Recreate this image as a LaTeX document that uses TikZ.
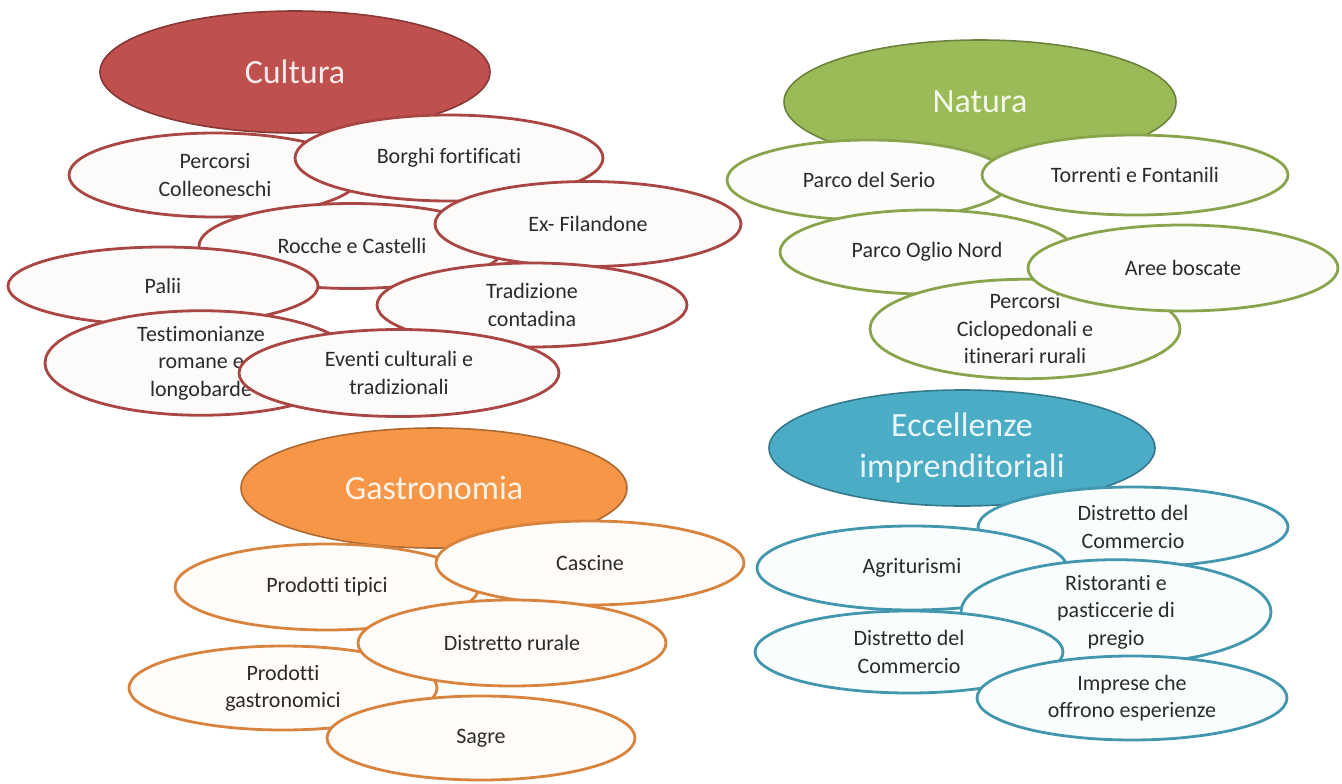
\documentclass[tikz,border=0pt]{standalone}
\usepackage{fontspec}
\setmainfont[Ligatures={NoCommon}]{Carlito}
\usepackage{tikz}
\usetikzlibrary{shapes.geometric}
\definecolor{cultura}{HTML}{C0504D}
\definecolor{natura}{HTML}{9BBB59}
\definecolor{gastro}{HTML}{F79646}
\definecolor{impresa}{HTML}{4BACC6}
\definecolor{scritta}{HTML}{2B2B2B}
\tikzset{titolo/.style={ellipse,draw=#1!70!black,fill=#1,line width=1.6pt,inner sep=0pt,
    minimum width=388pt,minimum height=120pt,text=#1!12!white,align=center,
    font=\fontsize{34}{41}\selectfont},
  voce/.style={ellipse,draw=#1!88!black,fill=#1!3!white,line width=2.8pt,inner sep=0pt,
    minimum width=310pt,minimum height=84pt,text=scritta,align=center,
    font=\fontsize{22}{27.5}\selectfont}}

\begin{document}
\begin{tikzpicture}[x=1pt,y=1pt,yscale=-1,xscale=1]
\useasboundingbox (0,0) rectangle (1342,784);

%Cultura
\node [titolo=cultura,minimum width=390,minimum height=122] (cult) at (295,72) {Cultura};
\node [voce=cultura,minimum width=292] (colleo) at (215,175) {Percorsi\\Colleoneschi};
\node [voce=cultura,minimum width=308,minimum height=86] (borghi) at (449,158) {Borghi fortificati};
\node [voce=cultura,minimum width=306,minimum height=85] (rocche) at (352,246) {Rocche e Castelli};
\node [voce=cultura,minimum width=306,minimum height=85] (filand) at (588,224) {Ex- Filandone};
\node [voce=cultura,minimum height=78] (palii) at (163,286) {Palii};
\node [voce=cultura] (tradiz) at (532,305) {Tradizione\\contadina};
\node [voce=cultura,minimum width=312] (testim) at (201,363) {Testimonianze\\romane e\\longobarde};
\node [voce=cultura,minimum width=320,minimum height=87] (eventi) at (399,373) {Eventi culturali e\\tradizionali};

%Natura
\node [titolo=natura,minimum width=392,minimum height=124] (nat) at (980,102) {Natura};
\node [voce=natura,minimum width=284,minimum height=80] (serio) at (869,180) {Parco del Serio};
\node [voce=natura,minimum width=306,minimum height=80] (torrenti) at (1135,175) {Torrenti e Fontanili};
\node [voce=natura,minimum width=294] (oglio) at (927,252) {Parco Oglio Nord};
\node [voce=natura,minimum height=82] (ciclo) at (1025,329) {Percorsi\\Ciclopedonali e\\itinerari rurali};
\node [voce=natura,minimum height=86] (aree) at (1183,268) {Aree boscate};

%Gastronomia
\node [titolo=gastro,minimum width=386] (gast) at (434,488) {Gastronomia};
\node [voce=gastro,minimum width=304,minimum height=86] (tipici) at (327,587) {Prodotti tipici};
\node [voce=gastro,minimum width=308] (cascine) at (590,563) {Cascine};
\node [voce=gastro,minimum width=308] (gastron) at (283,688) {Prodotti\\gastronomici};
\node [voce=gastro,minimum width=308,minimum height=86] (rurale) at (512,643) {Distretto rurale};
\node [voce=gastro,minimum width=308] (sagre) at (481,738) {Sagre};

%Eccellenze imprenditoriali
\node [titolo=impresa,minimum width=386,minimum height=116] (ecc) at (962,448) {Eccellenze\\imprenditoriali};
\node [voce=impresa,minimum height=80] (commtop) at (1133,527) {Distretto del\\Commercio};
\node [voce=impresa] (agri) at (912,568) {Agriturismi};
\node [voce=impresa] (ristor) at (1116,612) {Ristoranti e\\pasticcerie di\\pregio};
\node [voce=impresa,minimum width=308,minimum height=82] (commleft) at (909,652) {Distretto del\\Commercio};
\node [voce=impresa] (imprese) at (1132,698) {Imprese che\\offrono esperienze};

\end{tikzpicture}
\end{document}
